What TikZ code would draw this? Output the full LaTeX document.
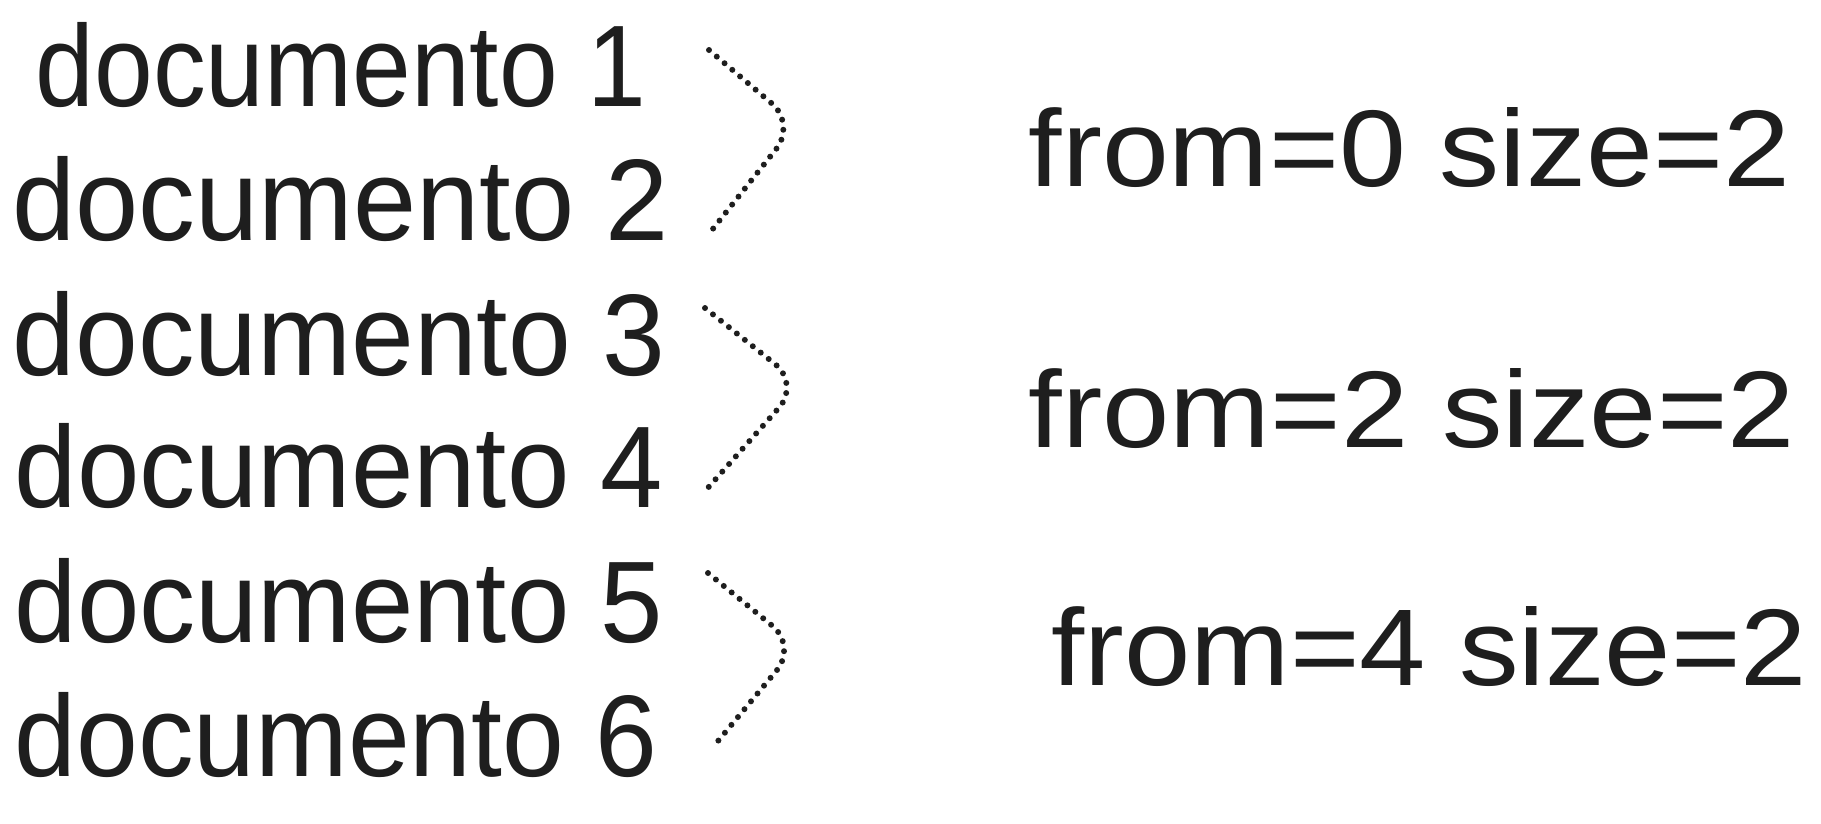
\documentclass[tikz,border=0pt]{standalone}
\usepackage{fontspec}
\setmainfont{Liberation Sans}
\usepackage{graphicx}
\definecolor{ink}{HTML}{1E1E1E}
\newcommand{\fitw}[2]{\resizebox{#1}{\height}{#2}}
\begin{document}
\begin{tikzpicture}[x=0.01cm,y=-0.01cm,
  doc/.style={anchor=base west,inner sep=0pt,text=ink,font=\fontsize{33}{38}\selectfont},
  rng/.style={anchor=base west,inner sep=0pt,text=ink,font=\fontsize{31}{36}\selectfont},
  brk/.style={draw=ink,line width=1.7pt,line cap=round,dash pattern=on 0pt off 2.9pt,rounded corners=9pt}]
\useasboundingbox (0,0) rectangle (1821,823);
\node[doc] (d1) at (35,106) {\fitw{6.10cm}{documento 1}};
\node[doc] (d2) at (12,240) {\fitw{6.56cm}{documento 2}};
\node[doc] (d3) at (12,375) {\fitw{6.52cm}{documento 3}};
\node[doc] (d4) at (14,507) {\fitw{6.48cm}{documento 4}};
\node[doc] (d5) at (14,642) {\fitw{6.48cm}{documento 5}};
\node[doc] (d6) at (14,776) {\fitw{6.42cm}{documento 6}};
\node[rng] (r1) at (1028,186) {\fitw{7.61cm}{from=0 size=2}};
\node[rng] (r2) at (1028,447) {\fitw{7.66cm}{from=2 size=2}};
\node[rng] (r3) at (1051,685) {\fitw{7.55cm}{from=4 size=2}};
\coordinate (b1t) at (709,50);  \coordinate (b1a) at (796,124); \coordinate (b1b) at (712,230);
\coordinate (b2t) at (705,308); \coordinate (b2a) at (800,384); \coordinate (b2b) at (706,490);
\coordinate (b3t) at (708,573); \coordinate (b3a) at (797,646); \coordinate (b3b) at (718,741);
\draw[brk] (b1t) -- (b1a) -- (b1b);
\draw[brk] (b2t) -- (b2a) -- (b2b);
\draw[brk] (b3t) -- (b3a) -- (b3b);
\end{tikzpicture}
\end{document}
